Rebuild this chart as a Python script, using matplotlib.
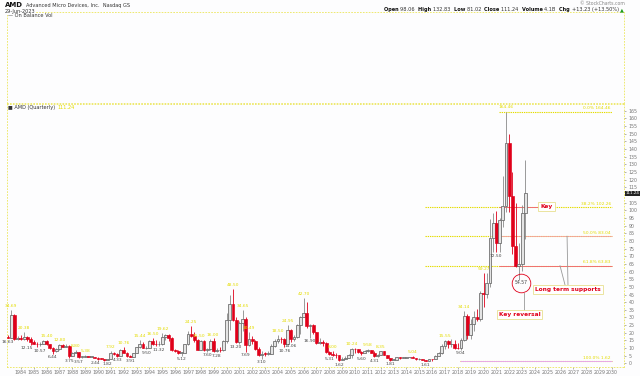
import matplotlib
matplotlib.use('Agg')
import matplotlib.pyplot as plt
import matplotlib.transforms as mtransforms

plt.rcParams['font.family'] = ['DejaVu Sans']

# ---------------- data (quarterly candles, first quarter = 1983 Q1) ----------------
start_year = 1983
opens = [
    17.5, 16.8, 31.5, 16.0,   16.8, 16.0, 17.2, 16.2,   14.0, 13.0, 12.5, 13.0,
    14.5, 12.5, 10.0, 8.0,    9.5, 12.0, 11.0, 11.5,    5.0, 7.0, 7.2, 4.2,
    4.4, 4.9, 4.2, 4.3,       3.7, 3.2, 2.9, 2.1,       3.0, 7.0, 6.0, 5.0,
    9.0, 7.0, 5.0, 4.5,       6.8, 10.5, 13.0, 10.0,    10.0, 14.5, 13.0, 12.5,
    12.5, 17.5, 18.5, 16.5,   8.5, 8.3, 6.8, 6.8,       12.9, 19.5, 18.0, 15.5,
    9.0, 14.5, 8.5, 9.5,      14.5, 7.8, 9.0, 8.6,      14.5, 28.5, 38.6, 28.2,
    13.8, 26.5, 28.9, 12.2,   15.86, 14.7, 9.72, 5.34,  6.46, 6.18, 6.41, 11.11,
    14.9, 16.23, 15.9, 13.0,  22.0, 16.12, 17.34, 25.2, 30.6, 33.16, 24.42, 24.85,
    20.35, 13.06, 14.3, 13.2, 7.5, 5.89, 5.83, 5.25,    2.16, 3.05, 3.87, 5.66,
    9.68, 9.27, 7.32, 7.11,   8.18, 8.6, 6.99, 5.08,    5.4, 8.02, 5.73, 3.37,
    2.4, 2.55, 4.08, 3.81,    3.87, 4.01, 4.19, 3.41,   2.67, 2.68, 2.4, 1.72,
    2.87, 2.85, 5.14, 6.91,   11.34, 14.55, 12.48, 12.75, 10.28, 10.05, 14.99, 30.89,
    18.46, 25.52, 30.37, 28.99, 45.86, 45.48, 52.61, 81.99, 91.71, 78.5, 93.67, 102.9,
    143.9, 109.34, 76.47, 63.36, 64.77, 98.06]
highs = [
    18.5, 34.69, 32.5, 18.0,  18.5, 20.38, 18.0, 17.0,  15.0, 14.0, 13.8, 15.0,
    15.4, 13.0, 10.5, 10.0,   12.8, 13.0, 12.5, 12.0,   7.5, 8.8, 7.5, 4.8,
    5.38, 5.0, 4.6, 4.4,      4.0, 3.8, 3.1, 3.2,       7.92, 7.5, 6.5, 9.5,
    10.76, 7.5, 5.5, 7.0,     11.0, 15.44, 14.0, 11.5,  15.5, 16.5, 15.0, 14.5,
    19.62, 19.0, 19.0, 17.0,  9.5, 9.0, 7.5, 13.0,      21.0, 24.25, 20.5, 16.0,
    15.5, 15.5, 10.0, 16.0,   16.5, 10.0, 10.5, 15.0,   33.0, 45.0, 48.5, 30.0,
    27.5, 34.65, 30.0, 20.49, 18.0, 15.0, 10.5, 8.0,    7.7, 8.0, 13.0, 16.0,
    18.5, 17.5, 16.5, 24.95,  22.5, 18.5, 25.5, 31.0,   42.7, 40.0, 26.0, 26.0,
    20.5, 16.5, 15.5, 14.2,   8.0, 8.0, 7.0, 5.3,       4.0, 5.0, 6.0, 10.24,
    10.0, 9.6, 7.9, 8.7,      9.58, 9.0, 8.3, 6.0,      8.35, 8.2, 5.8, 3.4,
    2.95, 4.4, 4.5, 4.0,      4.4, 4.3, 5.04, 3.5,      3.4, 2.9, 2.5, 3.1,
    2.9, 5.3, 7.2, 12.4,      15.55, 15.0, 15.65, 15.0, 13.5, 16.5, 34.14, 32.0,
    29.0, 34.3, 35.55, 47.3,  59.27, 59.0, 94.28, 97.98, 99.23, 95.0, 122.49, 164.46,
    150.0, 125.0, 104.6, 78.5, 103.5, 132.83]
lows = [
    16.63, 16.5, 15.5, 15.0,  15.5, 15.0, 14.5, 12.15,  12.5, 10.57, 11.5, 12.5,
    12.0, 9.5, 6.44, 7.5,     9.0, 10.5, 10.5, 3.75,    4.8, 6.5, 3.57, 3.8,
    4.2, 4.0, 3.9, 3.5,       2.44, 2.7, 1.82, 2.0,     2.9, 5.5, 4.33, 4.8,
    6.5, 4.5, 3.91, 4.3,      6.5, 10.0, 10.2, 9.5,     9.8, 12.0, 11.5, 11.32,
    12.0, 15.5, 14.5, 8.0,    7.5, 6.0, 5.12, 6.5,      12.0, 17.0, 14.0, 8.8,
    8.8, 8.0, 7.6, 9.0,       7.5, 7.28, 7.5, 8.0,      13.5, 22.0, 27.5, 13.2,
    13.0, 21.0, 7.69, 11.5,   12.5, 8.5, 5.0, 3.1,      5.0, 5.2, 6.2, 10.5,
    13.5, 13.5, 10.76, 12.5,  14.06, 14.5, 16.8, 19.5,  30.0, 23.0, 16.9, 19.5,
    12.8, 12.7, 11.5, 7.0,    5.31, 5.0, 3.8, 1.62,     2.0, 2.9, 3.3, 3.8,
    6.8, 7.0, 5.6, 6.5,       7.6, 6.6, 4.31, 4.5,      5.3, 5.4, 3.3, 1.81,
    2.3, 2.5, 3.2, 3.3,       3.4, 3.6, 3.4, 2.55,      2.5, 2.2, 1.61, 1.7,
    1.75, 2.6, 4.8, 5.9,      9.7, 9.8, 11.0, 9.7,      9.7, 9.04, 14.7, 16.03,
    16.0, 21.0, 27.7, 27.4,   36.75, 43.0, 50.0, 73.0,  72.5, 73.0, 89.0, 99.0,
    99.0, 71.6, 62.8, 54.57,  60.05, 81.02]
closes = [
    16.8, 31.5, 16.0, 16.8,   16.0, 17.2, 16.2, 14.0,   13.0, 12.5, 13.0, 14.5,
    12.5, 10.0, 8.0, 9.5,     12.0, 11.0, 11.5, 5.0,    7.0, 7.2, 4.2, 4.4,
    4.9, 4.2, 4.3, 3.7,       3.2, 2.9, 2.1, 3.0,       7.0, 6.0, 5.0, 9.0,
    7.0, 5.0, 4.5, 6.8,       10.5, 13.0, 10.0, 10.0,   14.5, 13.0, 12.5, 12.5,
    17.5, 18.5, 16.5, 8.5,    8.3, 6.8, 6.8, 12.9,      19.5, 18.0, 15.5, 9.0,
    14.5, 8.5, 9.5, 14.5,     7.8, 9.0, 8.6, 14.5,      28.5, 38.6, 28.2, 13.8,
    26.5, 28.9, 12.2, 15.86,  14.7, 9.72, 5.34, 6.46,   6.18, 6.41, 11.11, 14.9,
    16.23, 15.9, 13.0, 22.0,  16.12, 17.34, 25.2, 30.6, 33.16, 24.42, 24.85, 20.35,
    13.06, 14.3, 13.2, 7.5,   5.89, 5.83, 5.25, 2.16,   3.05, 3.87, 5.66, 9.68,
    9.27, 7.32, 7.11, 8.18,   8.6, 6.99, 5.08, 5.4,     8.02, 5.73, 3.37, 2.4,
    2.55, 4.08, 3.81, 3.87,   4.01, 4.19, 3.41, 2.67,   2.68, 2.4, 1.72, 2.87,
    2.85, 5.14, 6.91, 11.34,  14.55, 12.48, 12.75, 10.28, 10.05, 14.99, 30.89, 18.46,
    25.52, 30.37, 28.99, 45.86, 45.48, 52.61, 81.99, 91.71, 78.5, 93.67, 102.9, 143.9,
    109.34, 76.47, 63.36, 64.77, 98.01, 111.24]

high_label_quarters = [(1983, 2), (1984, 2), (1986, 1), (1987, 1), (1988, 2), (1989, 1),
                       (1991, 1), (1992, 1), (1993, 2), (1994, 2), (1995, 1), (1997, 2),
                       (1998, 1), (1998, 4), (2000, 3), (2001, 2), (2001, 4), (2004, 1),
                       (2004, 4), (2006, 1), (2008, 2), (2009, 4), (2011, 1), (2012, 1),
                       (2014, 3), (2017, 1), (2018, 3), (2020, 1), (2021, 4)]
low_label_quarters = [(1983, 1), (1984, 4), (1985, 2), (1986, 3), (1987, 4), (1988, 3),
                      (1990, 1), (1990, 3), (1991, 3), (1992, 3), (1993, 4), (1994, 4),
                      (1996, 3), (1998, 3), (1999, 2), (2000, 4), (2001, 3), (2002, 4),
                      (2004, 3), (2005, 1), (2006, 3), (2008, 1), (2008, 4), (2010, 3),
                      (2011, 3), (2012, 4), (2015, 3), (2018, 2), (2021, 1)]

fib_pcts = ["0.0%", "38.2%", "50.0%", "61.8%", "100.0%"]
fib_levels = [164.46, 102.26, 83.04, 63.83, 1.62]
last_close = 111.24
key_reversal_low = 54.57
year_ticks = list(range(1984, 2031))
price_ticks = list(range(0, 170, 5))

# ---------------- figure ----------------
W, H = 640, 376
BG = '#fdfdfe'
YEL = '#e4dc00'
fig = plt.figure(figsize=(W / 100, H / 100), dpi=100, facecolor=BG)


def px_axes(x0, y0, x1, y1):
    return fig.add_axes([x0 / W, 1 - y1 / H, (x1 - x0) / W, (y1 - y0) / H])


def style_spines(a):
    for s in a.spines.values():
        s.set_color('#ece65a')
        s.set_linestyle((0, (1, 2.5)))
        s.set_linewidth(0.6)


obv = px_axes(7, 12, 624, 103)
obv.set_facecolor(BG)
obv.set_xticks([])
obv.set_yticks([])
style_spines(obv)

ax = px_axes(7, 104, 624, 366.5)
ax.set_facecolor(BG)
style_spines(ax)


def qpos(i):
    return start_year + i * 0.25


# candles (StockCharts style: hollow when up, red when below previous close)
prev = None
for i, (o, h, l, c) in enumerate(zip(opens, highs, lows, closes)):
    t = qpos(i)
    ref = o if prev is None else prev
    is_red = c < ref
    edge = '#e0001a' if is_red else '#666666'
    hollow = c >= o
    ax.vlines(t, l, h, color='#e0001a' if is_red else '#8a8a8a', lw=0.6, zorder=3)
    bot, top = min(o, c), max(o, c)
    hgt = max(top - bot, 0.35)
    if hollow:
        ax.bar(t, hgt, bottom=bot, width=0.22, facecolor='#e4e4e4',
               edgecolor=edge, lw=0.55, zorder=4)
    else:
        fill = '#e0001a' if is_red else '#222222'
        ax.bar(t, hgt, bottom=bot, width=0.22, facecolor=fill, edgecolor=fill,
               lw=0.45, zorder=4)
    prev = c


def qidx(yq):
    return (yq[0] - start_year) * 4 + yq[1] - 1


low_label_shift = {(1984, 4): -2.5, (1985, 2): 2.0, (1990, 1): -1.5, (1990, 3): 2.0}
high_label_shift = {(1998, 1): -1.5, (1998, 4): 1.5}

for yq in high_label_quarters:
    i = qidx(yq)
    ax.annotate(f"{highs[i]:.2f}", (qpos(i), highs[i]),
                xytext=(high_label_shift.get(yq, 0), 1.5),
                textcoords='offset points', ha='center', va='bottom',
                fontsize=3.2, color=YEL, zorder=6)
for yq in low_label_quarters:
    i = qidx(yq)
    ax.annotate(f"{lows[i]:.2f}", (qpos(i), lows[i]),
                xytext=(low_label_shift.get(yq, 0), -1.2),
                textcoords='offset points', ha='center', va='top',
                fontsize=3.2, color='#444444', zorder=6)

# fibonacci retracement lines
fib_start, fib_end = 2015.45, 2030.0
for p, lv in zip(fib_pcts, fib_levels):
    x0 = 2021.2 if lv > 150 else (2018.2 if lv < 10 else fib_start)
    ax.hlines(lv, x0, fib_end, color=YEL, lw=0.8, linestyle=(0, (1.2, 0.8)), zorder=2)
    ax.text(fib_end - 0.1, lv + 0.8, f"{p} {lv:.2f}", ha='right', va='bottom',
            fontsize=3.2, color=YEL, zorder=6)
# user drawn red lines
ax.hlines(fib_levels[1], 2021.2, 2024.4, color='#f07070', lw=0.7, zorder=2)
ax.hlines(fib_levels[2], 2021.2, fib_end, color='#f4a0a0', lw=0.6, zorder=2)
ax.hlines(fib_levels[3], 2021.2, fib_end, color='#f07070', lw=0.7, zorder=2)
ax.hlines(fib_levels[4], 2018.2, fib_end, color='#e8a8e8', lw=0.7, zorder=2)

# annotations
box = dict(boxstyle='square,pad=0.35', facecolor='white', edgecolor='#e8e090', lw=0.6)
ax.text(2024.9, fib_levels[1], "Key", ha='center', va='center', fontsize=4.2,
        fontweight='bold', color='#e0001a', bbox=box, zorder=8)
ax.text(2026.6, 48.4, "Long term supports", ha='center', va='center', fontsize=4.2,
        fontweight='bold', color='#e0001a', bbox=box, zorder=8)
ax.plot([2026.57, 2026.5], [51.3, fib_levels[2]], color='#999999', lw=0.6, zorder=7)
ax.plot([2026.34, 2025.95], [51.3, fib_levels[3]], color='#999999', lw=0.6, zorder=7)
ax.plot([2022.94], [52.6], marker='o', markersize=13.4, markerfacecolor='none',
        markeredgecolor='#e0001a', markeredgewidth=0.6, zorder=8)
ax.text(2022.94, 52.6, f"{key_reversal_low:.2f}", ha='center', va='center',
        fontsize=3.3, color='#444444', zorder=8)
ax.plot([2023.15, 2023.15], [46.3, 34.4], color='#999999', lw=0.6, zorder=7)
ax.text(2022.8, 32.1, "Key reversal", ha='center', va='center', fontsize=4.2,
        fontweight='bold', color='#e0001a', bbox=box, zorder=8)

# axes scales
ax.set_xlim(1982.918, 2030.93)
ax.set_ylim(-2.0, 169.4)
ax.yaxis.tick_right()
ax.set_yticks(price_ticks)
ax.set_yticklabels(['' if v == 110 else str(v) for v in price_ticks])
ax.set_xticks(year_ticks)
ax.set_xticklabels([str(y) for y in year_ticks])
ax.tick_params(axis='both', labelsize=3.4, colors='#777777', length=1.2, width=0.4, pad=1.2)
ax.tick_params(axis='y', pad=2)

trans = mtransforms.blended_transform_factory(ax.transAxes, ax.transData)
ax.text(1.002, last_close, f"{last_close:.2f}", transform=trans, ha='left', va='center',
        fontsize=3.0, color='white',
        bbox=dict(boxstyle='square,pad=0.12', facecolor='#222222', edgecolor='none'),
        zorder=10, clip_on=False)

# ---------------- header texts ----------------
renderer = fig.canvas.get_renderer()
amd = fig.text(5 / W, 1 - 5 / H, "AMD", fontsize=5, fontweight='bold', color='#111111',
               va='center')
amd_w = amd.get_window_extent(renderer).width
fig.text((5 + amd_w + 2.5) / W, 1 - 5 / H, "Advanced Micro Devices, Inc.  Nasdaq GS",
         fontsize=3.6, color='#333333', va='center')
fig.text(5 / W, 1 - 11.5 / H, "29-Jun-2023", fontsize=3.6, color='#333333', va='center',
         bbox=dict(boxstyle='square,pad=0.1', facecolor=BG, edgecolor='none'))
fig.text(8 / W, 1 - 15.5 / H, "\u2014 On Balance Vol", fontsize=3.6, color='#333333',
         va='center')
fig.text(625 / W, 1 - 3.5 / H, "\u00a9 StockCharts.com", fontsize=3.3, color='#888888',
         ha='right', va='center')
leg = fig.text(8 / W, 1 - 107.5 / H, "\u25a0 AMD (Quarterly) ", fontsize=3.6,
               color='#333333', va='center')
leg_w = leg.get_window_extent(renderer).width
fig.text((8 + leg_w + 1) / W, 1 - 107.5 / H, f"{last_close:.2f}", fontsize=3.6, color=YEL,
         va='center')

parts = [("Open ", True), ("98.06  ", False), ("High ", True), ("132.83  ", False),
         ("Low ", True), ("81.02  ", False), ("Close ", True), ("111.24  ", False),
         ("Volume ", True), ("4.1B  ", False), ("Chg ", True), ("+13.23 (+13.50%) ", False),
         ("\u25b2", False)]
texts = []
for s, b in parts:
    t = fig.text(0, 1 - 9.5 / H, s, fontsize=3.6, fontweight='bold' if b else 'normal',
                 color='#111111' if b else '#333333', va='center')
    if s == "\u25b2":
        t.set_color('#1a9a1a')
    texts.append(t)
widths = [t.get_window_extent(renderer).width for t in texts]
x = 624 - sum(widths)
for t, w in zip(texts, widths):
    t.set_x(x / W)
    x += w

fig.savefig('out.png', dpi=100, facecolor=BG)
